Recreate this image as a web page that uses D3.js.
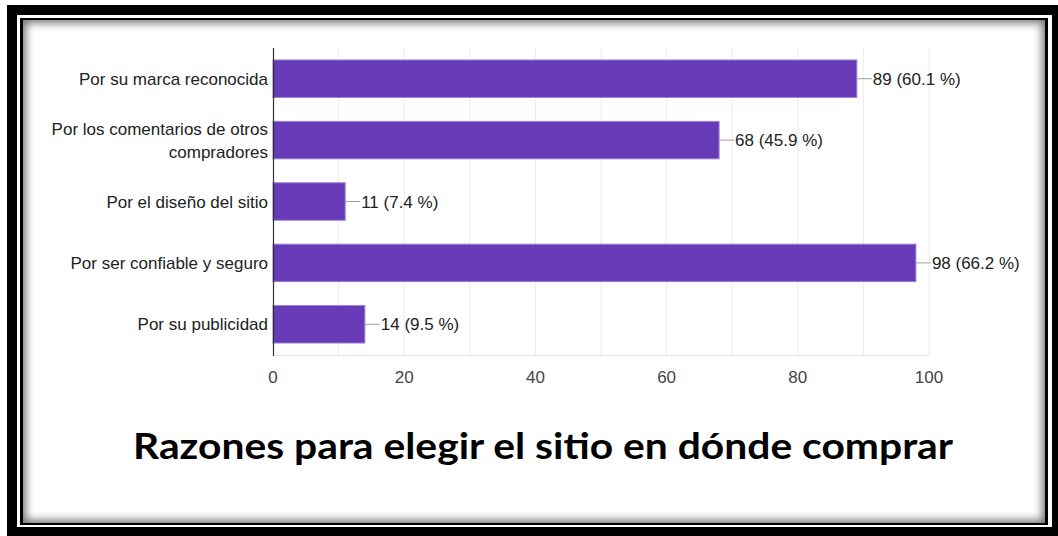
<!DOCTYPE html>
<html>
<head>
<meta charset="utf-8">
<script src="https://cdn.jsdelivr.net/npm/d3@7"></script>
<style>
  html, body { margin: 0; padding: 0; background: #fff; }
  #wrap { position: relative; width: 1058px; height: 536px; overflow: hidden; }
  .frame-outer { position: absolute; left: 7px; top: 5px; width: 1051px; height: 531px; background: #000; }
  .frame-gap { position: absolute; left: 17px; top: 15px; width: 1035px; height: 512px; background: #fff; }
  .frame-inner { position: absolute; left: 20px; top: 18px; width: 1028px; height: 507px; background: #000; }
  .frame-body { position: absolute; left: 23px; top: 20px; width: 1022px; height: 503px; background: #fff;
    box-shadow: inset 0 0 9px 3px rgba(0,0,0,0.55); }
  svg { position: absolute; left: 0; top: 0; }
</style>
</head>
<body>
<div id="wrap">
  <div class="frame-outer"></div>
  <div class="frame-gap"></div>
  <div class="frame-inner"></div>
  <div class="frame-body"></div>
  <div class="chart"></div>
</div>
<script>
const categories = [
  'Por su marca reconocida',
  'Por los comentarios de otros compradores',
  'Por el diseño del sitio',
  'Por ser confiable y seguro',
  'Por su publicidad'
]
const values = [89, 68, 11, 98, 14]
const percents = [60.1, 45.9, 7.4, 66.2, 9.5]
const xTicks = [0, 20, 40, 60, 80, 100]
const gridTicks = [10, 20, 30, 40, 50, 60, 70, 80, 90, 100]
const title = 'Razones para elegir el sitio en dónde comprar'

const width = 1058
const height = 536
const plot = { left: 273, right: 929, top: 48, bottom: 355 }

const svg = d3.select('.chart').append('svg')
  .attr('width', width)
  .attr('height', height)

const x = d3.scaleLinear().domain([0, 100]).range([plot.left, plot.right])
const y = d3.scaleBand().domain(categories).range([plot.top, plot.bottom])
  .paddingInner(0.39).paddingOuter(0.195)

// grid lines
svg.append('g')
  .selectAll('line')
  .data(gridTicks)
  .join('line')
  .attr('x1', d => x(d)).attr('x2', d => x(d))
  .attr('y1', plot.top).attr('y2', plot.bottom)
  .attr('stroke', '#ececec')
  .attr('stroke-width', 1)

svg.append('line')
  .attr('x1', plot.left).attr('x2', plot.right)
  .attr('y1', plot.bottom + 0.5).attr('y2', plot.bottom + 0.5)
  .attr('stroke', '#e6e6e6')

// bars
const rows = categories.map((c, i) => ({ c, v: values[i], p: percents[i] }))

svg.append('g')
  .selectAll('rect')
  .data(rows)
  .join('rect')
  .attr('x', x(0))
  .attr('y', d => y(d.c))
  .attr('width', d => x(d.v) - x(0))
  .attr('height', y.bandwidth())
  .attr('fill', '#673ab7')
  .attr('stroke', '#9c7fd6')
  .attr('stroke-width', 1)

// value labels with leader line
const lab = svg.append('g')
lab.selectAll('line')
  .data(rows)
  .join('line')
  .attr('x1', d => x(d.v)).attr('x2', d => x(d.v) + 15)
  .attr('y1', d => y(d.c) + y.bandwidth() / 2)
  .attr('y2', d => y(d.c) + y.bandwidth() / 2)
  .attr('stroke', '#9e9e9e')
  .attr('stroke-width', 1)

lab.selectAll('text')
  .data(rows)
  .join('text')
  .attr('x', d => x(d.v) + 16)
  .attr('y', d => y(d.c) + y.bandwidth() / 2 + 6)
  .attr('font-family', 'Liberation Sans, Arial, sans-serif')
  .attr('font-size', 17)
  .attr('fill', '#222')
  .text(d => `${d.v} (${d.p} %)`)

// vertical axis line
svg.append('line')
  .attr('x1', plot.left + 0.5).attr('x2', plot.left + 0.5)
  .attr('y1', plot.top).attr('y2', plot.bottom + 1)
  .attr('stroke', '#333')
  .attr('stroke-width', 1.2)

// category labels (wrapped)
const catG = svg.append('g')
  .attr('font-family', 'Liberation Sans, Arial, sans-serif')
  .attr('font-size', 17)
  .attr('fill', '#222')
  .attr('text-anchor', 'end')

catG.selectAll('text')
  .data(categories)
  .join('text')
  .each(function (d) {
    const t = d3.select(this)
    const words = d.split(' ')
    const lines = []
    let line = []
    const probe = t.append('tspan')
    words.forEach(w => {
      line.push(w)
      probe.text(line.join(' '))
      if (probe.node().getComputedTextLength() > 225 && line.length > 1) {
        line.pop()
        lines.push(line.join(' '))
        line = [w]
      }
    })
    lines.push(line.join(' '))
    probe.remove()
    const lh = 23
    const cy = y(d) + y.bandwidth() / 2
    lines.forEach((l, i) => {
      t.append('tspan')
        .attr('x', plot.left - 5)
        .attr('y', cy + 6 + (i - (lines.length - 1) / 2) * lh)
        .text(l)
    })
  })

// x axis tick labels
svg.append('g')
  .selectAll('text')
  .data(xTicks)
  .join('text')
  .attr('x', d => x(d))
  .attr('y', 383)
  .attr('text-anchor', 'middle')
  .attr('font-family', 'Liberation Sans, Arial, sans-serif')
  .attr('font-size', 17)
  .attr('fill', '#444')
  .text(d => d)

// title
svg.append('text')
  .attr('x', 543)
  .attr('y', 459)
  .attr('text-anchor', 'middle')
  .attr('font-family', 'Lato, Open Sans, sans-serif')
  .attr('font-weight', 700)
  .attr('font-size', 36)
  .attr('textLength', 820)
  .attr('lengthAdjust', 'spacingAndGlyphs')
  .attr('fill', '#000')
  .text(title)
</script>
</body>
</html>
